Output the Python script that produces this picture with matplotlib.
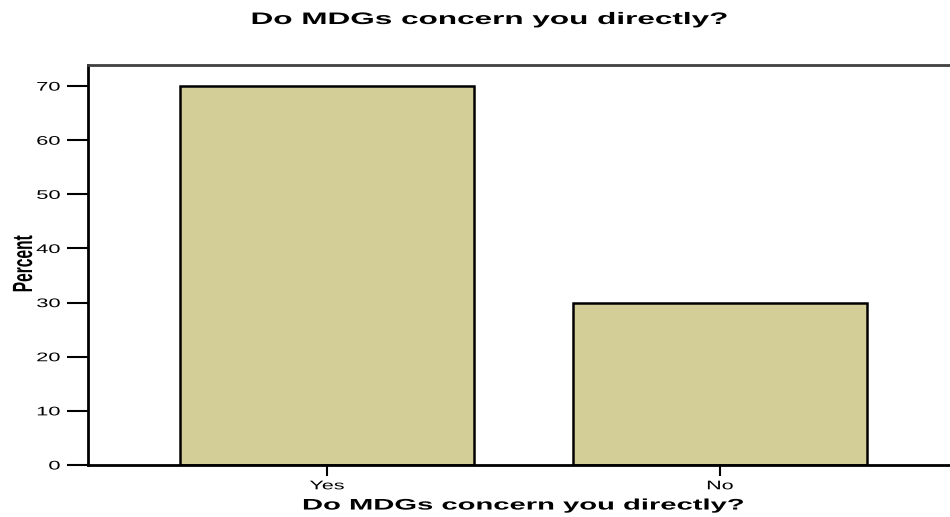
import matplotlib
matplotlib.use("Agg")
import matplotlib.pyplot as plt
from matplotlib.patheffects import AbstractPathEffect
from matplotlib.transforms import Affine2D

categories = ["Yes", "No"]
percent = [70, 30]
yticks = [0, 10, 20, 30, 40, 50, 60, 70]


class Stretch(AbstractPathEffect):
    # widen / narrow glyphs along the text direction (the reference font is very wide)
    def __init__(self, sx, anchor='center'):
        super().__init__()
        self.sx = sx
        self.anchor = anchor

    def draw_path(self, renderer, gc, tpath, affine, rgbFace=None):
        ext = tpath.get_extents()
        if self.anchor == 'left':
            cx = ext.x0
        elif self.anchor == 'right':
            cx = ext.x1
        else:
            cx = (ext.x0 + ext.x1) / 2
        pre = Affine2D().translate(-cx, 0).scale(self.sx, 1).translate(cx, 0)
        renderer.draw_path(gc, tpath, pre + affine, rgbFace)


plt.rcParams['font.family'] = ['Liberation Sans', 'DejaVu Sans']

fig = plt.figure(figsize=(9.5, 5.17), dpi=100)
ax = fig.add_axes([88/950, 1-465/517, (959-88)/950, (465-65)/517])

x = range(len(categories))
ax.bar(x, percent, width=0.746, color='#d3cd98', edgecolor='black', linewidth=1.8)

ax.set_xlim(-0.608, 1.608)
ax.set_ylim(0, 73.9)
ax.set_xticks(list(x))
ax.set_xticklabels(categories, fontsize=9)
ax.set_yticks(yticks)
ax.set_yticklabels([str(v) for v in yticks], fontsize=9)
ax.tick_params(axis='y', length=15, width=1.5, pad=5)
ax.tick_params(axis='x', length=8, width=1.5, pad=3)
for lab in ax.get_xticklabels():
    lab.set_path_effects([Stretch(1.72)])
for lab in ax.get_yticklabels():
    lab.set_path_effects([Stretch(1.75, 'right')])

for s in ['left', 'bottom']:
    ax.spines[s].set_linewidth(2)
    ax.spines[s].set_color('black')
ax.spines['top'].set_linewidth(2)
ax.spines['top'].set_color('#404040')
ax.spines['right'].set_visible(False)

xl = ax.set_xlabel("Do MDGs concern you directly?", fontsize=11, fontweight='bold', labelpad=4.5)
xl.set_path_effects([Stretch(1.91)])
yl = ax.set_ylabel("Percent", fontsize=20, fontweight='bold')
yl.set_path_effects([Stretch(0.56)])
ax.yaxis.set_label_coords((38-88)/871, (465-264)/400)

t = fig.text(489/950, 1-24/517, "Do MDGs concern you directly?", fontsize=12,
             fontweight='bold', ha='center', va='baseline')
t.set_path_effects([Stretch(1.89)])

fig.savefig("out.png", dpi=100)
